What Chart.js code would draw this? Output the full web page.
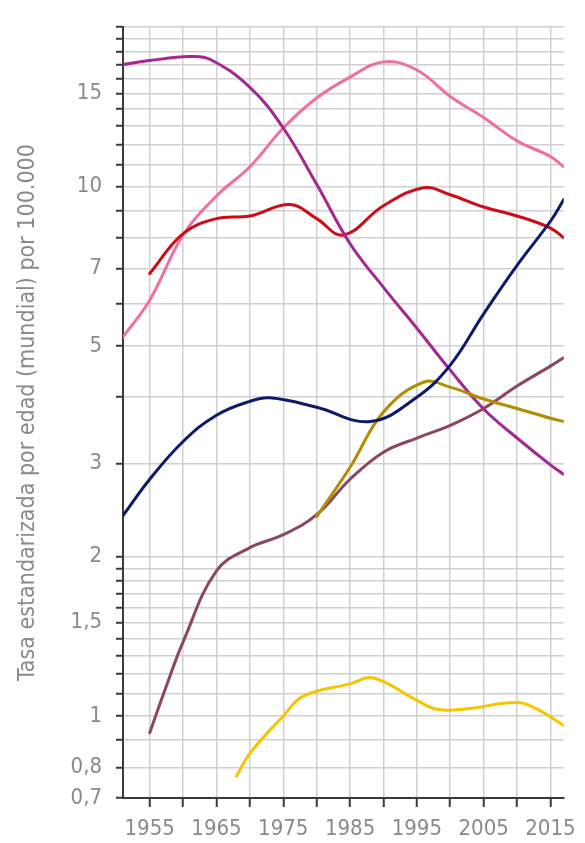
<!DOCTYPE html>
<html>
<head>
<meta charset="utf-8">
<script src="https://cdn.jsdelivr.net/npm/chart.js@4/dist/chart.umd.min.js"></script>
<style>
  html, body { margin: 0; padding: 0; background: #fff; }
  #wrap { position: relative; width: 585px; height: 843px; }
</style>
</head>
<body>
<div id="wrap"><canvas id="chart"></canvas></div>
<script>
// Tasa estandarizada por edad, escala logaritmica
const FONT = '"Liberation Sans Narrow", "DejaVu Sans Condensed", "Roboto Condensed", sans-serif';

// eje y: lineas de la reticula y etiquetas visibles
const yGridValues = [0.7, 0.8, 0.9, 1, 1.1, 1.2, 1.3, 1.4, 1.5, 1.6, 1.7, 1.8, 1.9, 2,
  3, 4, 5, 6, 7, 8, 9, 10, 11, 12, 13, 14, 15, 16, 17, 18, 19, 20];
const yLabels = { 0.7: '0,7', 0.8: '0,8', 1: '1', 1.5: '1,5', 2: '2', 3: '3', 5: '5', 7: '7', 10: '10', 15: '15' };

// eje x
const xGridYears = [1955, 1960, 1965, 1970, 1975, 1980, 1985, 1990, 1995, 2000, 2005, 2010, 2015];
const xLabelYears = [1955, 1965, 1975, 1985, 1995, 2005, 2015];

// series
const purpleYears  = [1951, 1955, 1961, 1964, 1970, 1975, 1980, 1985, 1990, 1995, 2000, 2005, 2010, 2015, 2017];
const purpleValues = [17.0, 17.3, 17.6, 17.4, 15.4, 12.9, 10.1, 7.8, 6.45, 5.4, 4.5, 3.8, 3.35, 2.98, 2.86];

const pinkYears  = [1951, 1955, 1960, 1965, 1970, 1975, 1980, 1985, 1990, 1995, 2000, 2005, 2010, 2015, 2017];
const pinkValues = [5.2, 6.1, 8.1, 9.6, 10.9, 12.9, 14.7, 16.1, 17.2, 16.6, 14.8, 13.5, 12.2, 11.4, 10.9];

const redYears  = [1955, 1960, 1965, 1970, 1976, 1980, 1984, 1990, 1996, 2000, 2005, 2010, 2015, 2017];
const redValues = [6.85, 8.15, 8.7, 8.8, 9.25, 8.7, 8.1, 9.2, 9.95, 9.65, 9.15, 8.8, 8.35, 8.0];

const navyYears  = [1951, 1955, 1960, 1965, 1970, 1973, 1980, 1988, 1995, 2000, 2005, 2010, 2015, 2017];
const navyValues = [2.39, 2.8, 3.3, 3.7, 3.93, 3.99, 3.83, 3.6, 4.0, 4.6, 5.75, 7.1, 8.6, 9.45];

const brownYears  = [1955, 1957.5, 1960, 1965, 1970, 1975, 1980, 1985, 1990, 1995, 2000, 2005, 2010, 2015, 2017];
const brownValues = [0.93, 1.14, 1.38, 1.88, 2.08, 2.2, 2.4, 2.8, 3.15, 3.35, 3.54, 3.81, 4.2, 4.58, 4.75];

const ochreYears  = [1980, 1985, 1990, 1996, 2000, 2005, 2010, 2015, 2017];
const ochreValues = [2.38, 2.95, 3.75, 4.27, 4.18, 3.97, 3.81, 3.65, 3.6];

const yellowYears  = [1968, 1970, 1975, 1978, 1985, 1988.5, 1995, 1998, 2002, 2010, 2013, 2017];
const yellowValues = [0.77, 0.85, 1.0, 1.09, 1.15, 1.18, 1.07, 1.03, 1.03, 1.06, 1.03, 0.96];

function pairs(xs, ys) {
    return xs.map((x, i) => ({ x: x, y: ys[i] }));
}

function line(data, color) {
    return {
        data: data,
        borderColor: color,
        borderWidth: 3,
        pointRadius: 0,
        fill: false,
        tension: 0.4,
        borderCapStyle: 'round',
        borderJoinStyle: 'round'
    };
}

const datasets = [
    line(pairs(navyYears, navyValues), '#0c1a6b'),
    line(pairs(ochreYears, ochreValues), '#b38c00'),
    line(pairs(purpleYears, purpleValues), '#a3288f'),
    line(pairs(redYears, redValues), '#cc0c18'),
    line(pairs(pinkYears, pinkValues), '#ef6fa2'),
    line(pairs(brownYears, brownValues), '#8c4660'),
    line(pairs(yellowYears, yellowValues), '#f6c400')
];

new Chart(document.getElementById('chart'), {
    type: 'line',
    data: { datasets: datasets },
    options: {
        responsive: true,
        maintainAspectRatio: false,
        animation: false,
        layout: { padding: { top: 15, right: 13, bottom: 0, left: 0 } },
        plugins: { legend: { display: false }, tooltip: { enabled: false } },
        scales: {
            x: {
                type: 'linear',
                min: 1951,
                max: 2017,
                afterBuildTicks: function(scale) {
                    scale.ticks = xGridYears.map(v => ({ value: v }));
                },
                afterFit: function(scale) { scale.height = 45; },
                grid: { color: '#d0d0d0', lineWidth: 1.5, tickLength: 9, tickColor: '#3a3a3a', tickWidth: 2 },
                border: { color: '#3a3a3a', width: 2 },
                ticks: {
                    autoSkip: false,
                    maxRotation: 0,
                    padding: 9,
                    color: '#8a8a8a',
                    font: { family: FONT, size: 22 },
                    callback: function(v) { return xLabelYears.includes(v) ? String(v) : ''; }
                }
            },
            y: {
                type: 'logarithmic',
                min: 0.7,
                max: 20,
                afterBuildTicks: function(scale) {
                    scale.ticks = yGridValues.map(v => ({ value: v }));
                },
                afterFit: function(scale) { scale.width = 123; },
                grid: { color: '#d0d0d0', lineWidth: 1.5, tickLength: 7, tickColor: '#3a3a3a', tickWidth: 2 },
                border: { color: '#3a3a3a', width: 2 },
                title: {
                    display: true,
                    text: 'Tasa estandarizada por edad (mundial) por 100.000',
                    color: '#8a8a8a',
                    font: { family: FONT, size: 23 },
                    padding: { top: 14, bottom: 0 }
                },
                ticks: {
                    autoSkip: false,
                    padding: 14,
                    color: '#8a8a8a',
                    font: { family: FONT, size: 22 },
                    callback: function(v) { return yLabels[v] !== undefined ? yLabels[v] : ''; }
                }
            }
        }
    }
});
</script>
</body>
</html>
